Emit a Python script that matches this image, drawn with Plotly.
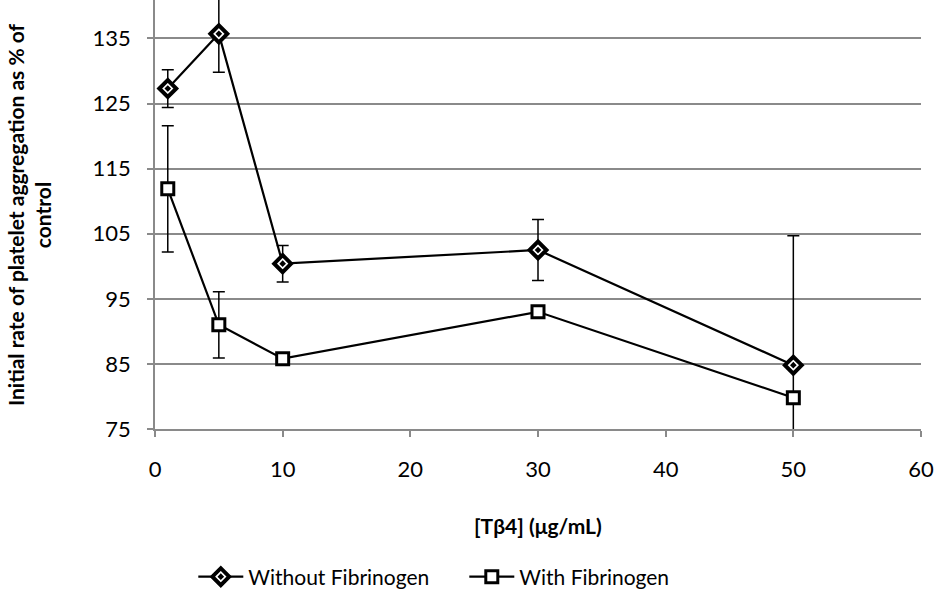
import plotly.graph_objects as go

x_vals = [1, 5, 10, 30, 50]
without_fib = [127.3, 135.7, 100.4, 102.5, 84.8]
without_err = [2.9, 5.9, 2.8, 4.7, 19.9]
with_fib = [111.9, 91.0, 85.8, 93.0, 79.8]
with_err = [9.7, 5.1, 0.0, 0.0, 0.0]

x_ticks = [0, 10, 20, 30, 40, 50, 60]
y_ticks = [75, 85, 95, 105, 115, 125, 135]

FONT = "Lato, Calibri, Carlito, sans-serif"

fig = go.Figure()
fig.add_trace(go.Scatter(
    x=x_vals, y=without_fib, name="Without Fibrinogen", mode="lines+markers",
    line=dict(color="black", width=2.2),
    marker=dict(symbol="diamond-dot", size=13, color="white",
                line=dict(color="black", width=4)),
    error_y=dict(type="data", array=without_err, color="black", thickness=1.5, width=6),
    cliponaxis=True,
))
fig.add_trace(go.Scatter(
    x=x_vals, y=with_fib, name="With Fibrinogen", mode="lines+markers",
    line=dict(color="black", width=2.2),
    marker=dict(symbol="square", size=12, color="white",
                line=dict(color="black", width=3)),
    error_y=dict(type="data", array=with_err, color="black", thickness=1.5, width=6),
    cliponaxis=True,
))

fig.update_layout(
    width=941, height=613,
    margin=dict(l=155, r=20, t=0, b=184),
    paper_bgcolor="white", plot_bgcolor="white",
    font=dict(family=FONT, size=21, color="black"),
    showlegend=True,
    legend=dict(orientation="h", x=0.05, xanchor="left", y=-0.345, yanchor="middle",
                font=dict(size=21), itemwidth=45, tracegroupgap=0,
                entrywidth=211, entrywidthmode="pixels",
                traceorder="normal"),
    xaxis=dict(range=[0, 60], tickvals=x_ticks, showgrid=False, showline=True,
               linecolor="#8a8a8a", linewidth=1.5, ticks="outside", ticklen=6,
               tickcolor="#8a8a8a", tickwidth=1.5, zeroline=False,
               ticklabelstandoff=14, tickfont=dict(size=22)),
    yaxis=dict(range=[75, 140.9], tickvals=y_ticks, showgrid=True,
               gridcolor="#8a8a8a", gridwidth=1.5, showline=True,
               linecolor="#8a8a8a", linewidth=1.5, ticks="outside", ticklen=6,
               tickcolor="#8a8a8a", tickwidth=1.5, zeroline=False,
               ticklabelstandoff=12, tickfont=dict(size=22)),
)

fig.add_annotation(text="<b>[Tβ4] (μg/mL)</b>", xref="paper", yref="paper",
                   x=0.5, y=-0.225, xanchor="center", yanchor="middle",
                   showarrow=False, font=dict(size=21))
fig.add_annotation(text="<b>Initial rate of platelet aggregation as % of</b><br><b>control</b>",
                   xref="paper", yref="paper", x=-0.165, y=0.5,
                   xanchor="center", yanchor="middle", textangle=-90,
                   showarrow=False, font=dict(size=21))

fig.write_html("out.html")
